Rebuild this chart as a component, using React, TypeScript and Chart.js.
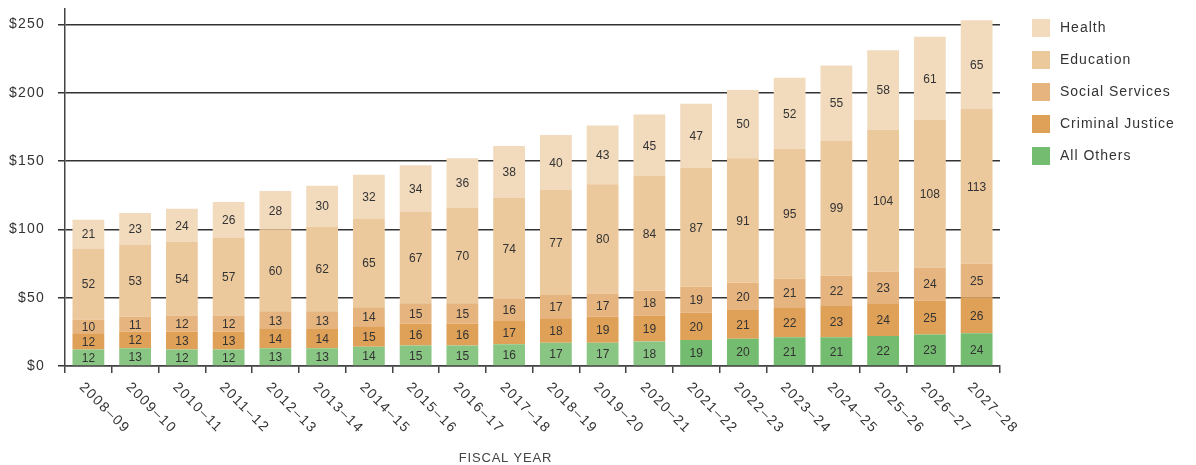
import React, { useEffect, useRef } from 'react';
import { Chart, registerables } from 'chart.js';
Chart.register(...registerables);

const years = ['2008–09','2009–10','2010–11','2011–12','2012–13','2013–14','2014–15','2015–16','2016–17','2017–18','2018–19','2019–20','2020–21','2021–22','2022–23','2023–24','2024–25','2025–26','2026–27','2027–28'];
const allOthers = [12,13,12,12,13,13,14,15,15,16,17,17,18,19,20,21,21,22,23,24];
const criminalJustice = [12,12,13,13,14,14,15,16,16,17,18,19,19,20,21,22,23,24,25,26];
const socialServices = [10,11,12,12,13,13,14,15,15,16,17,17,18,19,20,21,22,23,24,25];
const education = [52,53,54,57,60,62,65,67,70,74,77,80,84,87,91,95,99,104,108,113];
const health = [21,23,24,26,28,30,32,34,36,38,40,43,45,47,50,52,55,58,61,65];
const yTickValues = [0,50,100,150,200,250];
const yMax = 262;
const xTitle = 'FISCAL YEAR';
const projectionStart = 13;

const FONT = '"Liberation Sans", Arial, sans-serif';
const TEXT = '#333333';

export default function App() {
  const ref = useRef<HTMLCanvasElement>(null);
  useEffect(() => {
    if (!ref.current) return;
    const greenColors = years.map((_, i) => (i < projectionStart ? '#8ac683' : '#74bc6f'));
    const datasets = [
      { label: 'All Others', data: allOthers, backgroundColor: greenColors, legendColor: '#74bc6f' },
      { label: 'Criminal Justice', data: criminalJustice, backgroundColor: '#dfa058' },
      { label: 'Social Services', data: socialServices, backgroundColor: '#e6b47f' },
      { label: 'Education', data: education, backgroundColor: '#ebc99d' },
      { label: 'Health', data: health, backgroundColor: '#f2dabd' },
    ];

    const spacingPlugin = {
      id: 'spacing',
      beforeDraw(chart: any) {
        chart.ctx.letterSpacing = '1.2px';
      },
    };

    const valueLabels = {
      id: 'valueLabels',
      afterDatasetsDraw(chart: any) {
        const ctx = chart.ctx;
        ctx.save();
        ctx.letterSpacing = '0px';
        ctx.font = `12px ${FONT}`;
        ctx.fillStyle = TEXT;
        ctx.textAlign = 'center';
        ctx.textBaseline = 'middle';
        chart.data.datasets.forEach((ds: any, di: number) => {
          const meta = chart.getDatasetMeta(di);
          meta.data.forEach((el: any, i: number) => {
            const y = (el.y + el.base) / 2;
            ctx.fillText(String(ds.data[i]), el.x, y + 1);
          });
        });
        ctx.restore();
      },
    };

    const xLabels = {
      id: 'xLabels',
      afterDraw(chart: any) {
        const ctx = chart.ctx;
        const xs = chart.scales.x;
        const bottom = chart.chartArea.bottom;
        ctx.save();
        ctx.font = `14px ${FONT}`;
        ctx.letterSpacing = '1.5px';
        ctx.fillStyle = TEXT;
        ctx.textAlign = 'left';
        ctx.textBaseline = 'middle';
        years.forEach((yr, i) => {
          const x = xs.getPixelForValue(i);
          ctx.save();
          ctx.translate(x - 7, bottom + 19);
          ctx.rotate(Math.PI / 4);
          ctx.fillText(yr, 0, 0);
          ctx.restore();
        });
        ctx.font = `13px ${FONT}`;
        ctx.letterSpacing = '0.8px';
        ctx.fillStyle = '#444444';
        ctx.textAlign = 'center';
        const ca = chart.chartArea;
        ctx.fillText(xTitle, (ca.left + ca.right) / 2 - 27, chart.height - 7);
        ctx.restore();
      },
    };

    const legendPlugin = {
      id: 'customLegend',
      afterDraw(chart: any) {
        const ctx = chart.ctx;
        const ca = chart.chartArea;
        ctx.save();
        ctx.font = `14px ${FONT}`;
        ctx.letterSpacing = '1px';
        ctx.textAlign = 'left';
        ctx.textBaseline = 'middle';
        const items = [...chart.data.datasets].reverse();
        items.forEach((ds: any, k: number) => {
          const bx = ca.right + 32;
          const by = 11 + k * 32;
          ctx.fillStyle = ds.legendColor || ds.backgroundColor;
          ctx.fillRect(bx, by, 18, 18);
          ctx.fillStyle = TEXT;
          ctx.fillText(ds.label, bx + 28, by + 9);
        });
        ctx.restore();
      },
    };

    const chart = new Chart(ref.current, {
      type: 'bar',
      data: { labels: years, datasets: datasets as any },
      options: {
        animation: false,
        responsive: true,
        maintainAspectRatio: false,
        layout: { padding: { left: 0, right: 188, top: 0, bottom: 0 } },
        datasets: { bar: { barPercentage: 0.68, categoryPercentage: 1 } },
        plugins: { legend: { display: false }, tooltip: { enabled: false } },
        scales: {
          x: {
            stacked: true,
            offset: true,
            grid: { display: true, drawOnChartArea: false, offset: true, color: '#444444', lineWidth: 1.5, tickLength: 7 },
            border: { display: true, color: '#444444', width: 1.5 },
            ticks: { display: false },
            afterFit: (scale: any) => { scale.height = 99; },
          },
          y: {
            stacked: true,
            min: 0,
            max: yMax,
            afterBuildTicks: (scale: any) => {
              scale.ticks = yTickValues.map((v) => ({ value: v }));
            },
            afterFit: (scale: any) => {
              scale.width = 57;
              scale.paddingTop = 0;
              scale.paddingBottom = 0;
            },
            grid: { color: '#333333', lineWidth: 1.5, tickLength: 7 },
            border: { display: true, color: '#444444', width: 1.5 },
            ticks: {
              color: TEXT,
              padding: 13,
              font: { family: FONT, size: 14 },
              callback: (v: any) => '$' + v,
            },
          },
        },
      } as any,
      plugins: [spacingPlugin, valueLabels, xLabels, legendPlugin],
    });
    return () => chart.destroy();
  }, []);

  return (
    <div style={{ position: 'relative', width: '1180px', height: '457px' }}>
      <canvas ref={ref} />
    </div>
  );
}
